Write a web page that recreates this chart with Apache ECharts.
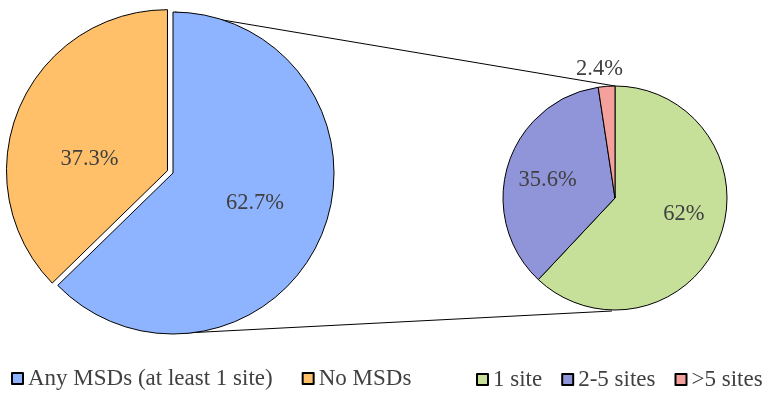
<!DOCTYPE html>
<html><head><meta charset="utf-8">
<script src="https://cdn.jsdelivr.net/npm/echarts@6/dist/echarts.min.js"></script>
<style>html,body{margin:0;padding:0;background:#fff}#c{width:772px;height:405px}</style>
</head><body><div id="c"></div>
<script>
// Data
const mainCategories = ['Any MSDs (at least 1 site)', 'No MSDs'];
const mainValues = [62.7, 37.3];
const subCategories = ['1 site', '2-5 sites', '>5 sites'];
const subValues = [62, 35.6, 2.4];

// Styles (kept separate from data)
const mainColors = ['#8FB4FF', '#FFC069'];
const subColors = ['#C6E09A', '#9094D8', '#F4A09C'];
const mainLabelOffsets = [[5, -2], [-1, 21]];
const subLabelOffsets = [[14, -6], [-11, 0], [-11, -70]];

// Layout
const L = { cx: 173, cy: 173, r: 161 };
const R = { cx: 615, cy: 198, r: 112 };
const font = '"Liberation Serif"';
const textColor = '#404040';

const chart = echarts.init(document.getElementById('c'), null, { renderer: 'canvas' });

const mainData = mainCategories.map((n, i) => ({
  name: n, value: mainValues[i], selected: i === 1,
  itemStyle: { color: mainColors[i] },
  label: { offset: mainLabelOffsets[i] },
  select: { label: { offset: mainLabelOffsets[i] }, itemStyle: { color: mainColors[i], borderColor: '#000', borderWidth: 1 } }
}));
const subData = subCategories.map((n, i) => ({
  name: n, value: subValues[i],
  itemStyle: { color: subColors[i] },
  label: { offset: subLabelOffsets[i] }
}));

const common = {
  type: 'pie', startAngle: 90, clockwise: true, animation: false,
  avoidLabelOverlap: false, minShowLabelAngle: 0,
  itemStyle: { borderColor: '#000', borderWidth: 1 },
  label: { show: true, position: 'inside', formatter: '{c}%', fontFamily: font, fontSize: 22.5, color: textColor },
  labelLine: { show: false },
  emphasis: { disabled: true }
};

const legendText = { fontFamily: font, fontSize: 23, color: textColor };

chart.setOption({
  backgroundColor: '#fff',
  legend: [
    { data: mainCategories, left: 6, top: 362, icon: 'rect', itemWidth: 11, itemHeight: 11, itemGap: 29,
      textStyle: legendText, selectedMode: false },
    { data: subCategories, left: 471, top: 363, icon: 'rect', itemWidth: 11, itemHeight: 11, itemGap: 19,
      textStyle: legendText, selectedMode: false }
  ],
  graphic: [
    { type: 'line', shape: { x1: L.cx + 2, y1: L.cy - L.r, x2: R.cx, y2: R.cy - R.r }, style: { stroke: '#000', lineWidth: 1 }, z: 0 },
    { type: 'line', shape: { x1: L.cx + 12, y1: L.cy + L.r - 1, x2: R.cx - 3, y2: R.cy + R.r + 1 }, style: { stroke: '#000', lineWidth: 1 }, z: 0 }
  ],
  series: [
    Object.assign({}, common, {
      name: 'main', center: [L.cx, L.cy], radius: L.r,
      selectedMode: 'single', selectedOffset: 6, data: mainData, z: 2
    }),
    Object.assign({}, common, {
      name: 'sub', center: [R.cx, R.cy], radius: R.r,
      selectedMode: false, data: subData, z: 2
    })
  ]
});
</script></body></html>
